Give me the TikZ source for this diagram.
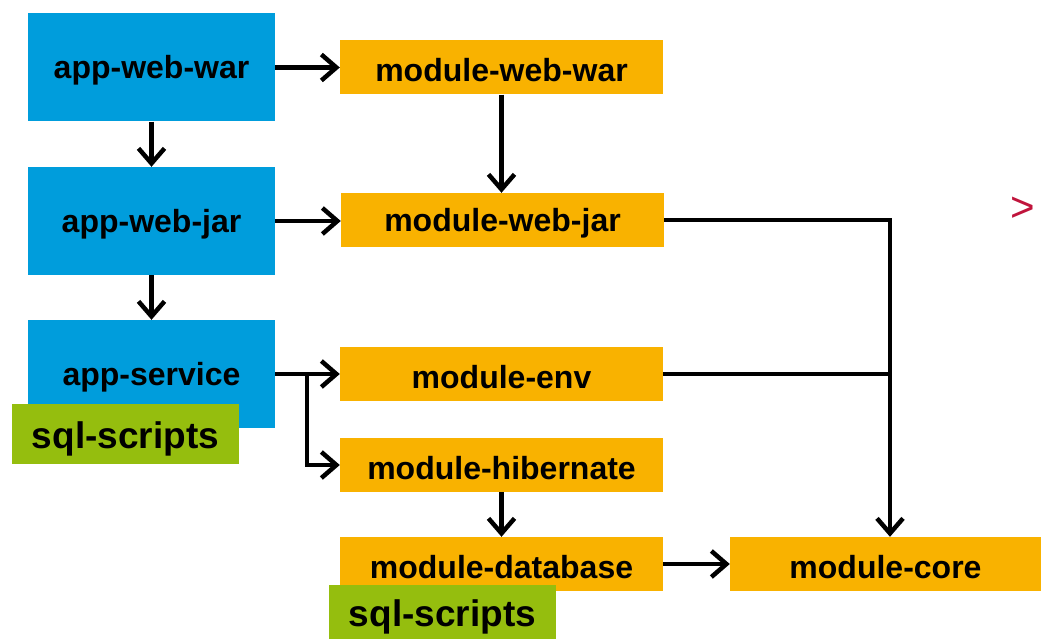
\documentclass[tikz,border=0pt]{standalone}
\usepackage{fontspec}
\setmainfont{Liberation Sans}
\usetikzlibrary{arrows.meta}
\definecolor{appblue}{HTML}{009DDC}
\definecolor{modorange}{HTML}{F9B200}
\definecolor{sqlgreen}{HTML}{95BE0E}
\definecolor{crim}{HTML}{C0143C}
\newcommand{\lowtxt}[2]{\raisebox{-#1pt}[\height][\depth]{#2}}
\tikzset{
  appbox/.style={fill=appblue, minimum width=247pt, minimum height=108pt, inner sep=0pt, font=\fontsize{32}{36}\selectfont\bfseries},
  modbox/.style={fill=modorange, minimum width=323pt, minimum height=54pt, inner sep=0pt, font=\fontsize{32}{36}\selectfont\bfseries},
  sqlbox/.style={fill=sqlgreen, minimum width=227pt, inner sep=0pt, font=\fontsize{37}{42}\selectfont\bfseries},
  conn/.style={line width=4.5pt, -{Straight Barb[length=15pt,width=26pt,line width=4.5pt]}},
  plain/.style={line width=4.5pt}
}
\begin{document}
\begin{tikzpicture}[x=1pt,y=-1pt]
\useasboundingbox (0,0) rectangle (1041,639);
\node[appbox] (aww) at (151.5,67.5) {\lowtxt{3}{app-web-war}};
\node[appbox] (awj) at (151.5,221) {\lowtxt{3}{app-web-jar}};
\node[appbox] (as) at (151.5,374) {\lowtxt{3}{app-service}};
\node[modbox] (mww) at (501.5,67.5) {\lowtxt{3}{module-web-war}};
\node[modbox] (mwj) at (502.5,220) {\lowtxt{3}{module-web-jar}};
\node[modbox] (me) at (501.5,374) {\lowtxt{3}{module-env}};
\node[modbox] (mh) at (501.5,465) {\lowtxt{3}{module-hibernate}};
\node[modbox] (md) at (501.5,564) {\lowtxt{3}{module-database}};
\node[modbox, minimum width=311pt] (mc) at (885.5,564) {\lowtxt{3}{module-core}};
\node[sqlbox, minimum height=60pt] (sql1) at (125.5,434) {\lowtxt{5}{sql-scripts}};
\node[sqlbox, minimum height=54pt] (sql2) at (442.5,612) {\lowtxt{5}{sql-scripts}};
\node[text=crim, font=\fontsize{42}{46}\selectfont] (gt) at (1023,209) {>};
\coordinate (br) at (307,374);
\coordinate (jn) at (890,374);
\draw[conn] (aww.east) -- (mww.west);
\draw[conn] (aww.south) -- (awj.north);
\draw[conn] (awj.east) -- (mwj.west|-awj.east);
\draw[conn] (awj.south) -- (as.north);
\draw[conn] (mww.south) -- (mww.south|-mwj.north);
\draw[conn] (as.east) -- (me.west);
\draw[conn] (br) |- (mh.west);
\draw[conn] (mh.south) -- (mh.south|-md.north);
\draw[conn] (md.east) -- (mc.west);
\draw[plain] (mwj.east) -| (jn);
\draw[plain] (me.east) -- (jn);
\draw[conn] (jn) -- (jn|-mc.north);
\end{tikzpicture}
\end{document}
